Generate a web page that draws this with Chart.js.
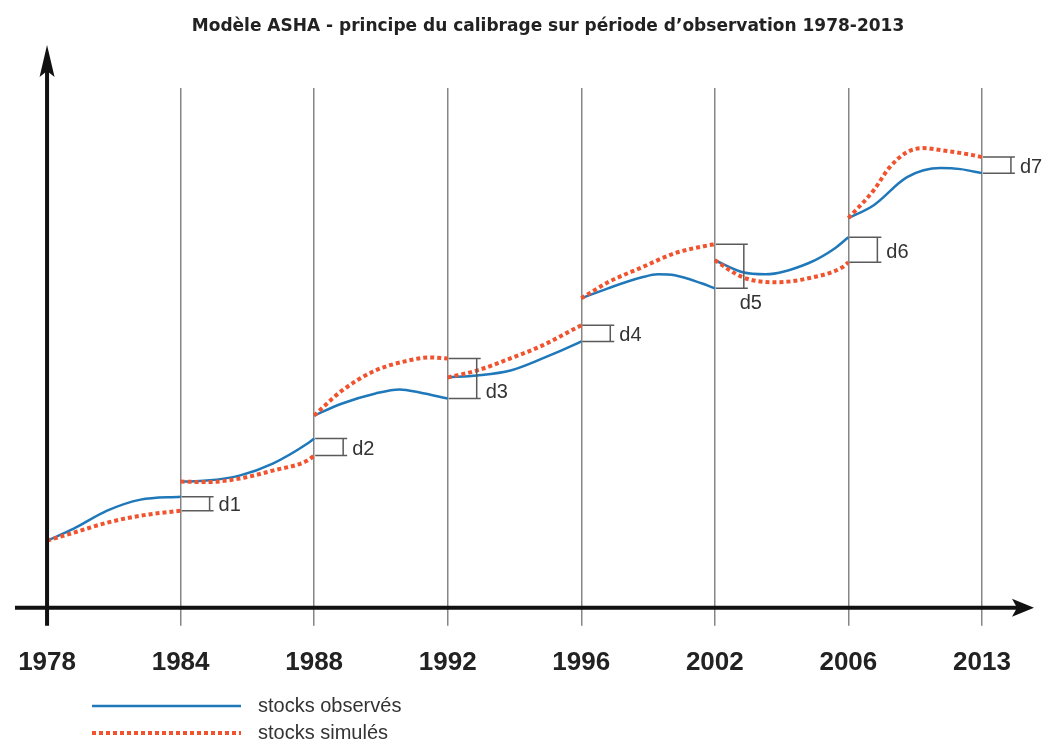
<!DOCTYPE html>
<html>
<head>
<meta charset="utf-8">
<script src="https://cdn.jsdelivr.net/npm/chart.js@4.4.1/dist/chart.umd.min.js"></script>
<style>
html, body { margin: 0; padding: 0; background: #ffffff; }
#wrap { width: 1049px; height: 742px; position: relative; }
</style>
</head>
<body>
<div id="wrap"><canvas id="c" width="1049" height="742"></canvas></div>
<script>
// ---- data (schematic) ----
const years = ['1978', '1984', '1988', '1992', '1996', '2002', '2006', '2013'];

// observed stocks: period index position, value (null = break between calibration periods)
const obsPos = [0, 0.2, 0.45, 0.7, 1,   1,
                1, 1.195, 1.44, 1.69, 1.95, 2,   2,
                2, 2.21, 2.46, 2.64, 2.79, 3,   3,
                3, 3.22, 3.47, 3.71, 3.97, 4,   4,
                4, 4.2, 4.455, 4.575, 4.7, 4.9, 5,   5,
                5, 5.21, 5.38, 5.7, 5.9, 6,   6,
                6, 6.19, 6.44, 6.69, 6.84, 7];
const obsVal = [6.7, 7.9, 9.7, 10.8, 11.1,   null,
                12.6, 12.7, 13.2, 14.4, 16.4, 16.9,   null,
                19.2, 20.4, 21.4, 21.8, 21.5, 20.9,   null,
                23.0, 23.2, 23.7, 24.9, 26.4, 26.6,   null,
                30.9, 31.9, 33.0, 33.3, 33.2, 32.4, 31.9,   null,
                34.7, 33.5, 33.3, 34.4, 35.9, 37.0,   null,
                38.9, 40.2, 43.0, 43.9, 43.8, 43.4];

// simulated stocks (restarted at each calibration date)
const simPos = [0, 0.2, 0.45, 0.7, 1,   1,
                1, 1.195, 1.44, 1.69, 1.95, 2,   2,
                2, 2.21, 2.46, 2.71, 2.86, 3,   3,
                3, 3.22, 3.47, 3.71, 3.97, 4,   4,
                4, 4.2, 4.455, 4.7, 4.955, 5,   5,
                5, 5.21, 5.45, 5.7, 5.955, 6,   6,
                6, 6.19, 6.31, 6.44, 6.56, 6.69, 6.93, 7];
const simVal = [6.7, 7.5, 8.5, 9.2, 9.7,   null,
                12.6, 12.55, 12.9, 13.7, 14.7, 15.2,   null,
                19.2, 21.7, 23.7, 24.7, 25.0, 24.9,   null,
                23.0, 23.7, 24.9, 26.2, 28.0, 28.2,   null,
                30.9, 32.5, 34.0, 35.4, 36.2, 36.3,   null,
                34.7, 33.0, 32.5, 32.9, 34.0, 34.5,   null,
                38.9, 41.7, 44.0, 45.5, 45.9, 45.7, 45.2, 45.0];

const gapLabels = ['d1', 'd2', 'd3', 'd4', 'd5', 'd6', 'd7'];
const titleText = 'Modèle ASHA - principe du calibrage sur période d\u2019observation 1978-2013';
const obsLabel = 'stocks observés';
const simLabel = 'stocks simulés';

// ---- styles ----
const FONT = "'Liberation Sans', Arial, Helvetica, sans-serif";
const TITLE_FONT = "'DejaVu Sans', 'Liberation Sans', Arial, sans-serif";
const BLUE = '#1f78b9';
const RED = '#f0532e';
const GRID = '#858585';
const AXIS = '#111111';
const gapPlace = ['right', 'right', 'low', 'right', 'below', 'right', 'right'];

function toPoints(pos, val) {
  return pos.map((x, i) => ({ x: x, y: val[i] }));
}
// value of a series at the end of period i (first point found at position i)
function endValue(pos, val, i) {
  for (let k = 0; k < pos.length; k++) {
    if (pos[k] === i && val[k] !== null) return val[k];
  }
  return null;
}

const axesPlugin = {
  id: 'schemaAxes',
  afterDatasetsDraw(chart) {
    const ctx = chart.ctx;
    const xs = chart.scales.x, ys = chart.scales.y;
    ctx.save();
    // difference brackets d1..d7
    ctx.strokeStyle = '#5a5a5a';
    ctx.lineWidth = 1.5;
    ctx.fillStyle = '#333333';
    ctx.font = '20px ' + FONT;
    for (let i = 1; i < years.length; i++) {
      const x = xs.getPixelForValue(i);
      const yo = ys.getPixelForValue(endValue(obsPos, obsVal, i));
      const yv = ys.getPixelForValue(endValue(simPos, simVal, i));
      const top = Math.min(yo, yv), bot = Math.max(yo, yv);
      ctx.beginPath();
      ctx.moveTo(x + 1, yo); ctx.lineTo(x + 29, yo);
      ctx.moveTo(x + 1, yv); ctx.lineTo(x + 29, yv);
      ctx.moveTo(x + 29, top); ctx.lineTo(x + 29, bot);
      ctx.moveTo(x + 25, top); ctx.lineTo(x + 33, top);
      ctx.moveTo(x + 25, bot); ctx.lineTo(x + 33, bot);
      ctx.stroke();
      const place = gapPlace[i - 1];
      ctx.textBaseline = 'middle';
      if (place === 'below') {
        ctx.textAlign = 'center';
        ctx.fillText(gapLabels[i - 1], x + 36, bot + 15);
      } else {
        ctx.textAlign = 'left';
        const f = place === 'low' ? 0.85 : 0.62;
        ctx.fillText(gapLabels[i - 1], x + 38, top + (bot - top) * f);
      }
    }
    ctx.restore();
  },
  afterDraw(chart) {
    const ctx = chart.ctx;
    const xs = chart.scales.x, ys = chart.scales.y;
    const area = chart.chartArea;
    const x0 = xs.getPixelForValue(0);
    const y0 = ys.getPixelForValue(0);
    ctx.save();
    // title
    ctx.fillStyle = '#222222';
    ctx.font = 'bold 17px ' + TITLE_FONT;
    ctx.textAlign = 'center';
    ctx.textBaseline = 'middle';
    ctx.fillText(titleText, 548, 27);

    ctx.strokeStyle = AXIS;
    ctx.fillStyle = AXIS;
    ctx.lineWidth = 4;
    // x axis
    const tipX = area.right + 4;
    ctx.beginPath();
    ctx.moveTo(area.left, y0); ctx.lineTo(tipX - 16, y0); ctx.stroke();
    ctx.beginPath();
    ctx.moveTo(tipX, y0); ctx.lineTo(tipX - 22, y0 - 9); ctx.lineTo(tipX - 17, y0); ctx.lineTo(tipX - 22, y0 + 9);
    ctx.closePath(); ctx.fill();
    // y axis
    const tipY = area.top - 43;
    ctx.beginPath();
    ctx.moveTo(x0, y0 + 18); ctx.lineTo(x0, tipY + 24); ctx.stroke();
    ctx.beginPath();
    ctx.moveTo(x0, tipY); ctx.lineTo(x0 - 7.5, tipY + 32); ctx.lineTo(x0, tipY + 26); ctx.lineTo(x0 + 7.5, tipY + 32);
    ctx.closePath(); ctx.fill();

    // legend
    const items = chart.data.datasets;
    ctx.font = '20px ' + FONT;
    ctx.textAlign = 'left';
    ctx.textBaseline = 'middle';
    const lx0 = 92, lx1 = 241, ly = [706, 733];
    items.forEach((ds, k) => {
      ctx.beginPath();
      ctx.strokeStyle = ds.borderColor;
      ctx.lineWidth = ds.borderWidth;
      ctx.setLineDash(ds.borderDash || []);
      ctx.lineCap = 'butt';
      ctx.moveTo(lx0, ly[k]); ctx.lineTo(lx1, ly[k]);
      ctx.stroke();
      ctx.setLineDash([]);
      ctx.fillStyle = '#333333';
      ctx.fillText(ds.label, 258, ly[k]);
    });
    ctx.restore();
  }
};

new Chart(document.getElementById('c'), {
  type: 'line',
  data: {
    datasets: [
      {
        label: obsLabel,
        data: toPoints(obsPos, obsVal),
        borderColor: BLUE,
        borderWidth: 2.5,
        pointRadius: 0,
        cubicInterpolationMode: 'monotone',
        spanGaps: false,
        order: 1
      },
      {
        label: simLabel,
        data: toPoints(simPos, simVal),
        borderColor: RED,
        borderWidth: 4,
        borderDash: [4, 3],
        borderCapStyle: 'butt',
        pointRadius: 0,
        cubicInterpolationMode: 'monotone',
        spanGaps: false,
        order: 0
      }
    ]
  },
  options: {
    responsive: false,
    animation: false,
    layout: { padding: { left: 15, right: 19, top: 88, bottom: 43 } },
    plugins: {
      legend: { display: false },
      tooltip: { enabled: false },
      title: { display: false }
    },
    scales: {
      x: {
        type: 'linear',
        min: -0.24,
        max: 7.36,
        afterBuildTicks: (s) => { s.ticks = years.map((_, i) => ({ value: i })); },
        afterFit: (s) => { s.paddingLeft = 0; s.paddingRight = 0; },
        ticks: {
          callback: (v, i) => years[i],
          color: '#222222',
          font: { family: FONT, size: 26, weight: 'bold', lineHeight: 1.2 },
          padding: 21,
          autoSkip: false,
          maxRotation: 0
        },
        grid: {
          color: (c) => (c.tick && c.tick.value === 0) ? 'rgba(0,0,0,0)' : GRID,
          lineWidth: 1.5,
          tickLength: 18,
          drawTicks: true
        },
        border: { display: false }
      },
      y: {
        display: false,
        min: 0,
        max: 51.9
      }
    }
  },
  plugins: [axesPlugin]
});
</script>
</body>
</html>
